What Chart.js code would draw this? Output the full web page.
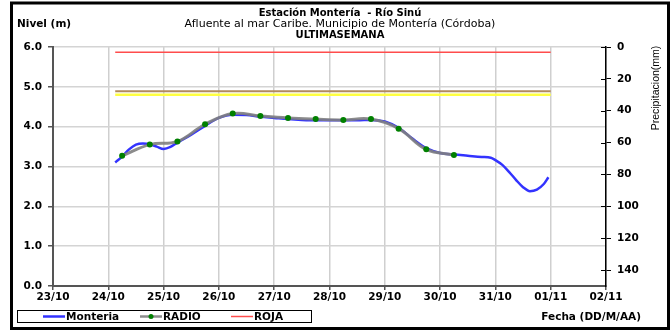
<!DOCTYPE html>
<html lang="es">
<head>
<meta charset="utf-8">
<title>Estación Montería - Río Sinú</title>
<script src="https://cdn.jsdelivr.net/npm/chart.js@4.4.1/dist/chart.umd.min.js"></script>
<style>
  html, body { margin: 0; padding: 0; background: #fff; }
  #grafica { display: block; }
</style>
</head>
<body>
<canvas id="grafica" width="671" height="330"></canvas>
<script>
// ---- Datos ----
// Eje X en horas contadas desde el 23/10 a las 00:00
const etiquetasFecha = ['23/10', '24/10', '25/10', '26/10', '27/10', '28/10', '29/10', '30/10', '31/10', '01/11', '02/11'];

// Sensor automático Montería (nivel en m)
const horasMonteria = [27, 30, 33, 36, 39, 42, 45, 48, 51, 54, 60, 66, 72, 78, 84, 90, 96, 102, 108, 114, 120, 126, 132, 138,
  144, 150, 156, 162, 168, 174, 180, 186, 190, 192, 195, 198, 201, 204, 207, 210, 213, 215];
const nivelMonteria = [3.10, 3.25, 3.43, 3.55, 3.58, 3.56, 3.50, 3.44, 3.49, 3.60, 3.80, 4.02, 4.22, 4.30, 4.29, 4.25, 4.22, 4.19, 4.17, 4.16, 4.16, 4.16, 4.16, 4.17,
  4.13, 3.97, 3.70, 3.46, 3.34, 3.30, 3.27, 3.24, 3.22, 3.16, 3.04, 2.86, 2.66, 2.48, 2.38, 2.42, 2.56, 2.73];

// Lecturas por radio (6:00 y 18:00)
const horasRadio = [30, 42, 54, 66, 78, 90, 102, 114, 126, 138, 150, 162, 174];
const nivelRadio = [3.27, 3.55, 3.63, 4.06, 4.33, 4.27, 4.22, 4.19, 4.17, 4.19, 3.95, 3.43, 3.29];

// Umbrales de alerta (m) y tramo en que se dibujan
const nivelRoja = 5.87;
const nivelNaranja = 4.89;
const nivelAmarilla = 4.80;
const horasAlerta = [27, 216];

// Ejes
const ticksNivel = [0, 1, 2, 3, 4, 5, 6];
const ticksPrecip = [0, 20, 40, 60, 80, 100, 120, 140];

// Series que aparecen en la leyenda, en este orden
const ordenLeyenda = ['Monteria', 'RADIO', 'ROJA'];

const puntos = (xs, ys) => xs.map((x, i) => ({ x: x, y: ys[i] }));
const umbral = (v) => horasAlerta.map(h => ({ x: h, y: v }));

const fuenteEje = { family: 'DejaVu Sans', size: 10.5, weight: 'bold' };

// ---- Marco, títulos y leyenda ----
const marcoPlugin = {
  id: 'marco',
  afterDraw(chart) {
    const ctx = chart.ctx;
    const area = chart.chartArea;
    ctx.save();

    // marcas del eje derecho que cruzan hacia dentro
    const y2 = chart.scales.y2;
    ctx.strokeStyle = '#000';
    ctx.lineWidth = 1;
    ticksPrecip.forEach(v => {
      const py = Math.round(y2.getPixelForValue(v)) + 0.5;
      ctx.beginPath();
      ctx.moveTo(area.right - 5, py);
      ctx.lineTo(area.right, py);
      ctx.stroke();
    });

    // títulos
    ctx.fillStyle = '#000';
    ctx.textAlign = 'center';
    ctx.textBaseline = 'middle';
    ctx.font = 'bold 10px "DejaVu Sans"';
    ctx.fillText('Estación Montería  - Río Sinú', 340, 13);
    ctx.font = '11px "DejaVu Sans"';
    ctx.fillText('Afluente al mar Caribe. Municipio de Montería (Córdoba)', 340, 24);
    ctx.font = 'bold 10px "DejaVu Sans"';
    ctx.fillText('ULTIMASEMANA', 340, 35);

    ctx.textAlign = 'left';
    ctx.font = 'bold 10.5px "DejaVu Sans"';
    ctx.fillText('Nivel (m)', 17, 24);

    ctx.textAlign = 'right';
    ctx.fillText('Fecha (DD/M/AA)', 641, 317);

    // título del eje derecho, girado
    ctx.save();
    ctx.translate(656, 88);
    ctx.rotate(-Math.PI / 2);
    ctx.textAlign = 'center';
    ctx.font = '10.5px "Liberation Sans"';
    ctx.fillText('Precipitacion(mm)', 0, 0);
    ctx.restore();

    // leyenda
    ctx.lineWidth = 1;
    ctx.strokeStyle = '#000';
    ctx.strokeRect(17.5, 310.5, 294, 12);
    const posLeyenda = [43, 140, 231];
    ctx.textAlign = 'left';
    ctx.font = 'bold 10.5px "DejaVu Sans"';
    ordenLeyenda.forEach((nombre, i) => {
      const d = chart.data.datasets.find(ds => ds.label === nombre);
      const x0 = posLeyenda[i];
      ctx.strokeStyle = d.borderColor;
      ctx.lineWidth = Math.min(d.borderWidth, 2.5);
      ctx.beginPath();
      ctx.moveTo(x0, 316.5);
      ctx.lineTo(x0 + 22, 316.5);
      ctx.stroke();
      if (d.pointRadius > 0) {
        ctx.fillStyle = d.pointBackgroundColor;
        ctx.beginPath();
        ctx.arc(x0 + 11, 316.5, 2.5, 0, Math.PI * 2);
        ctx.fill();
      }
      ctx.fillStyle = '#000';
      ctx.fillText(d.label, x0 + 23, 317);
    });

    // marco exterior
    ctx.strokeStyle = '#000';
    ctx.lineWidth = 3;
    ctx.strokeRect(11.5, 3, 657, 325.5);
    ctx.restore();
  }
};

new Chart(document.getElementById('grafica'), {
  type: 'line',
  data: {
    datasets: [
      {
        label: 'ROJA', data: umbral(nivelRoja),
        borderColor: '#ff4d4d', borderWidth: 1.5, pointRadius: 0, order: 5
      },
      {
        label: 'NARANJA', data: umbral(nivelNaranja),
        borderColor: '#b08a5e', borderWidth: 2, pointRadius: 0, order: 4
      },
      {
        label: 'AMARILLA', data: umbral(nivelAmarilla),
        borderColor: '#ffff40', borderWidth: 2.5, pointRadius: 0, order: 3
      },
      {
        label: 'Monteria', data: puntos(horasMonteria, nivelMonteria),
        borderColor: '#3333ff', borderWidth: 2.5, pointRadius: 0,
        cubicInterpolationMode: 'monotone', order: 2
      },
      {
        label: 'RADIO', data: puntos(horasRadio, nivelRadio),
        borderColor: 'rgba(128,128,128,0.9)', borderWidth: 3, tension: 0.4,
        pointRadius: 3, pointBackgroundColor: '#008000', pointBorderWidth: 0, order: 1
      }
    ]
  },
  options: {
    responsive: false,
    devicePixelRatio: 1,
    animation: false,
    events: [],
    layout: { padding: { top: 47, left: 0, right: 0, bottom: 0 } },
    plugins: { legend: { display: false }, tooltip: { enabled: false } },
    scales: {
      x: {
        type: 'linear', min: 0, max: 240,
        afterBuildTicks: s => { s.ticks = etiquetasFecha.map((_, i) => ({ value: i * 24 })); },
        afterFit: s => { s.height = 44; },
        ticks: {
          callback: v => etiquetasFecha[v / 24],
          color: '#000', font: fuenteEje, padding: 1, maxRotation: 0, autoSkip: false
        },
        grid: { color: '#cfcfcf', lineWidth: 1.5, tickLength: 4, tickColor: '#555' },
        border: { color: '#555', width: 2 }
      },
      y: {
        position: 'left', min: 0, max: 6,
        afterBuildTicks: s => { s.ticks = ticksNivel.map(v => ({ value: v })); },
        afterFit: s => { s.width = 53; },
        ticks: {
          callback: v => v.toFixed(1),
          color: '#000', font: fuenteEje, padding: 6
        },
        grid: { color: '#d4d4d4', lineWidth: 1.5, tickLength: 5, tickColor: '#555' },
        border: { color: '#555', width: 2 }
      },
      y2: {
        position: 'right', min: 0, max: 150, reverse: true,
        afterBuildTicks: s => { s.ticks = ticksPrecip.map(v => ({ value: v })); },
        afterFit: s => { s.width = 65; },
        ticks: { color: '#000', font: fuenteEje, padding: 6 },
        grid: { drawOnChartArea: false, tickLength: 5, tickColor: '#000' },
        border: { color: '#000', width: 1.5 }
      }
    }
  },
  plugins: [marcoPlugin]
});
</script>
</body>
</html>
